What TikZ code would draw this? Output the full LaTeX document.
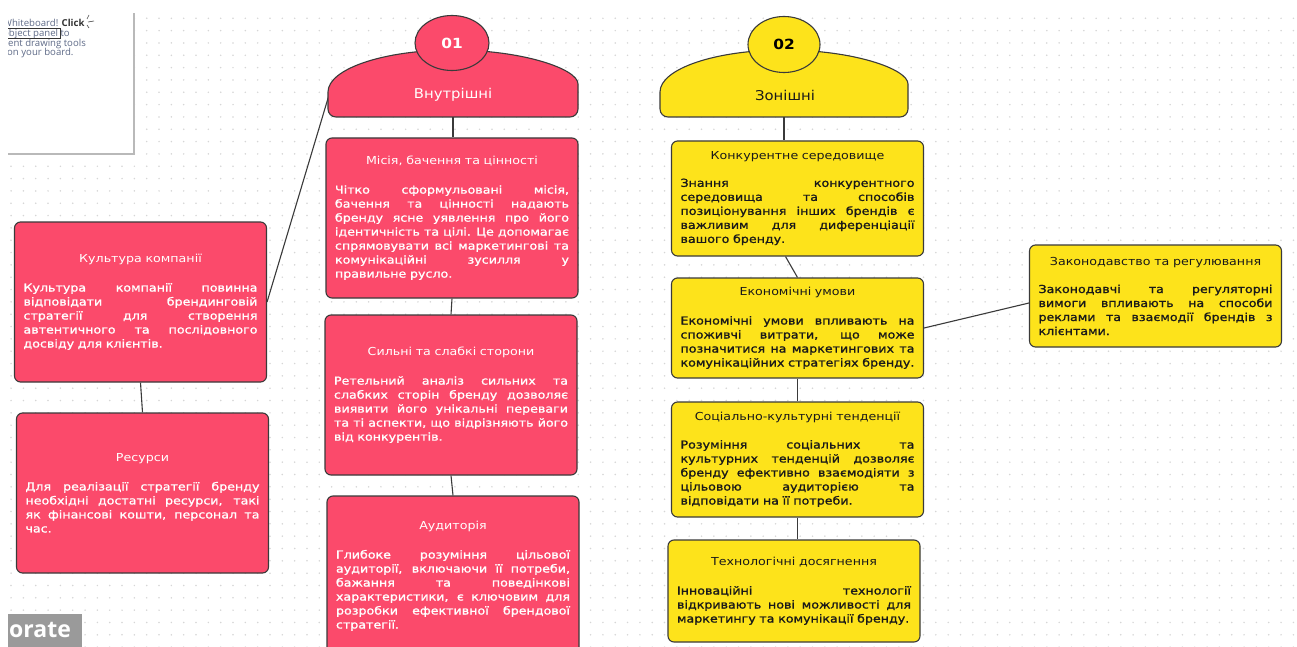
\documentclass[tikz,border=0pt]{standalone}
\usepackage{fontspec}
\setmainfont{DejaVu Sans}
\newfontfamily\tfnt[FakeStretch=1.15]{DejaVu Sans}
\newfontfamily\bfnt[FakeStretch=1.15,FakeBold=1.2]{DejaVu Sans}
\newfontfamily\hfnt[FakeStretch=1.1]{DejaVu Sans}
\newfontfamily\ofnt{Open Sans}
\usetikzlibrary{shapes.geometric,calc}
\pgfdeclarelayer{grid}
\pgfdeclarelayer{background}
\pgfsetlayers{grid,background,main}
\definecolor{redf}{HTML}{FB4A6B}
\definecolor{yelf}{HTML}{FDE31B}
\definecolor{edgec}{HTML}{3A3A3A}
\definecolor{dotc}{HTML}{D6D6D6}
\definecolor{wbtxt}{HTML}{5F6B88}
\definecolor{orbg}{HTML}{9A9A9A}
\newcommand{\jl}[1]{{\spaceskip=0pt\xspaceskip=0pt\makebox[\hsize][s]{#1}}}
\newcommand{\ttl}[1]{\makebox[\hsize]{\tfnt #1}}
\tikzset{
  boxbase/.style={draw=edgec, line width=1.1pt, rounded corners=6pt,
    text width=234pt, minimum width=252pt, inner xsep=9pt, align=left,
    font=\bfnt\fontsize{11}{14}\selectfont},
  rbox/.style={boxbase, fill=redf, text=white, minimum height=160pt},
  ybox/.style={boxbase, fill=yelf, text=black!90},
  conn/.style={draw=edgec, line width=1.1pt},
  dome/.style={draw=edgec, line width=1.1pt},
  badge/.style={ellipse, draw=edgec, line width=1.1pt, inner sep=0pt,
    font=\hfnt\bfseries\fontsize{14}{14}\selectfont},
  domelabel/.style={inner sep=0pt, font=\hfnt\fontsize{13.5}{14}\selectfont},
  wbline/.style={anchor=base west, inner sep=0pt, text=wbtxt,
    font=\ofnt\fontsize{9.6}{10}\selectfont}
}
\begin{document}
\begin{tikzpicture}[x=1pt,y=-1pt]
\useasboundingbox (0,0) rectangle (1297,647);
\clip (0,0) rectangle (1297,647);
\begin{pgfonlayer}{grid}
\fill[white] (0,0) rectangle (1297,647);
\foreach \i in {0,...,105}{\foreach \j in {0,...,51}{
  \fill[dotc] ({11.07+\i*12.33},{18.3+\j*12.33}) circle (0.85pt);}}
% whiteboard panel (cut off)
\fill[white] (0,11) rectangle (134,154);
\draw[gray!55, line width=1.6pt] (8,154) -- (134,154) -- (134,13);
\begin{scope}
\clip (8,10) rectangle (133,153);
\node[wbline] (wb1) at (3,27) {Whiteboard! \textcolor{black!80}{\bfseries Click}};
\node[wbline] (wb2) at (3,37) {object panel to};
\draw[black!80, line width=0.7pt] (7,28.5) rectangle (60,38.5);
\node[wbline] (wb3) at (8,46.5) {ent drawing tools};
\node[wbline] (wb4) at (7,56) {on your board.};
\draw[black!70, line width=0.6pt] (87,19) -- (89,15) (88,22) -- (94,21) (87,25) -- (89,28);
\end{scope}
\end{pgfonlayer}
% "orate" label
\fill[orbg] (8,614) rectangle (82,650);
\node[anchor=west, inner sep=0pt, text=white, font=\ofnt\bfseries\fontsize{23}{23}\selectfont] (orate) at (9,630) {orate};
% domes
\filldraw[dome, fill=redf] (578,92) arc[start angle=0,end angle=180,x radius=125pt,y radius=42pt]
   [rounded corners=8pt] -- (328,117) -- (578,117) -- cycle;
\filldraw[dome, fill=yelf] (908,92) arc[start angle=0,end angle=180,x radius=124pt,y radius=42pt]
   [rounded corners=8pt] -- (660,117) -- (908,117) -- cycle;
\node[badge, fill=redf, text=white, minimum width=74pt, minimum height=55pt] (c1) at (452,43) {01};
\node[badge, fill=yelf, text=black, minimum width=72pt, minimum height=56pt] (c2) at (784,44.5) {02};
\node[domelabel, text=white] (d1) at (453,95) {Внутрішні};
\node[domelabel, text=black!90] (d2) at (785,95) {Зонішні};
\coordinate (d1b) at (453,117);
\coordinate (d1l) at (332,85);
\coordinate (d2b) at (784,117);
% boxes
\path
  (452,218) node[rbox] (m1) {\ttl{Місія, бачення та цінності}\\[15pt]
    \jl{Чітко сформульовані місія,}\\
    \jl{бачення та цінності надають}\\
    \jl{бренду ясне уявлення про його}\\
    \jl{ідентичність та цілі. Це допомагає}\\
    \jl{спрямовувати всі маркетингові та}\\
    \jl{комунікаційні зусилля у}\\
    правильне русло.}
  (451,395) node[rbox] (m2) {\ttl{Сильні та слабкі сторони}\\[15pt]
    \jl{Ретельний аналіз сильних та}\\
    \jl{слабких сторін бренду дозволяє}\\
    \jl{виявити його унікальні переваги}\\
    \jl{та ті аспекти, що відрізняють його}\\
    від конкурентів.}
  (453,576) node[rbox] (m3) {\ttl{Аудиторія}\\[15pt]
    \jl{Глибоке розуміння цільової}\\
    \jl{аудиторії, включаючи її потреби,}\\
    \jl{бажання та поведінкові}\\
    \jl{характеристики, є ключовим для}\\
    \jl{розробки ефективної брендової}\\
    стратегії.}
  (140.5,302) node[rbox] (k1) {\ttl{Культура компанії}\\[15pt]
    \jl{Культура компанії повинна}\\
    \jl{відповідати брендинговій}\\
    \jl{стратегії для створення}\\
    \jl{автентичного та послідовного}\\
    досвіду для клієнтів.}
  (142.5,493) node[rbox] (k2) {\ttl{Ресурси}\\[15pt]
    \jl{Для реалізації стратегії бренду}\\
    \jl{необхідні достатні ресурси, такі}\\
    \jl{як фінансові кошти, персонал та}\\
    час.}
  (797.5,198.5) node[ybox, minimum height=115pt] (y1) {\ttl{Конкурентне середовище}\\[13pt]
    \jl{Знання конкурентного}\\
    \jl{середовища та способів}\\
    \jl{позиціонування інших брендів є}\\
    \jl{важливим для диференціації}\\
    вашого бренду.}
  (797.5,328) node[ybox, minimum height=100pt] (y2) {\ttl{Економічні умови}\\[15pt]
    \jl{Економічні умови впливають на}\\
    \jl{споживчі витрати, що може}\\
    \jl{позначитися на маркетингових та}\\
    комунікаційних стратегіях бренду.}
  (1155.5,296) node[ybox, minimum height=102pt] (y3) {\ttl{Законодавство та регулювання}\\[14pt]
    \jl{Законодавчі та регуляторні}\\
    \jl{вимоги впливають на способи}\\
    \jl{реклами та взаємодії брендів з}\\
    клієнтами.}
  (797.5,459.5) node[ybox, minimum height=115pt] (y4) {\ttl{Соціально-культурні тенденції}\\[14pt]
    \jl{Розуміння соціальних та}\\
    \jl{культурних тенденцій дозволяє}\\
    \jl{бренду ефективно взаємодіяти з}\\
    \jl{цільовою аудиторією та}\\
    відповідати на її потреби.}
  (794,591) node[ybox, minimum height=102pt] (y5) {\ttl{Технологічні досягнення}\\[15pt]
    \jl{Інноваційні технології}\\
    \jl{відкривають нові можливості для}\\
    маркетингу та комунікації бренду.};
% connectors (under the boxes)
\begin{pgfonlayer}{background}
\draw[conn] (d1b) -- (d1b |- m1.north);
\draw[conn] (d1l) -- (k1.east);
\draw[conn] (m1.south) -- (m2.north);
\draw[conn] (m2.south) -- (m3.north);
\draw[conn] (k1.south) -- (k2.north);
\draw[conn] (d2b) -- (d2b |- y1.north);
\draw[conn] ($(y1.south)+(-12,0)$) -- (y2.north);
\draw[conn] (y2.east) -- ($(y3.west)+(0,7)$);
\draw[conn] (y2.south) -- (y4.north);
\draw[conn] (y4.south) -- (y4.south |- y5.north);
\end{pgfonlayer}
\end{tikzpicture}
\end{document}
